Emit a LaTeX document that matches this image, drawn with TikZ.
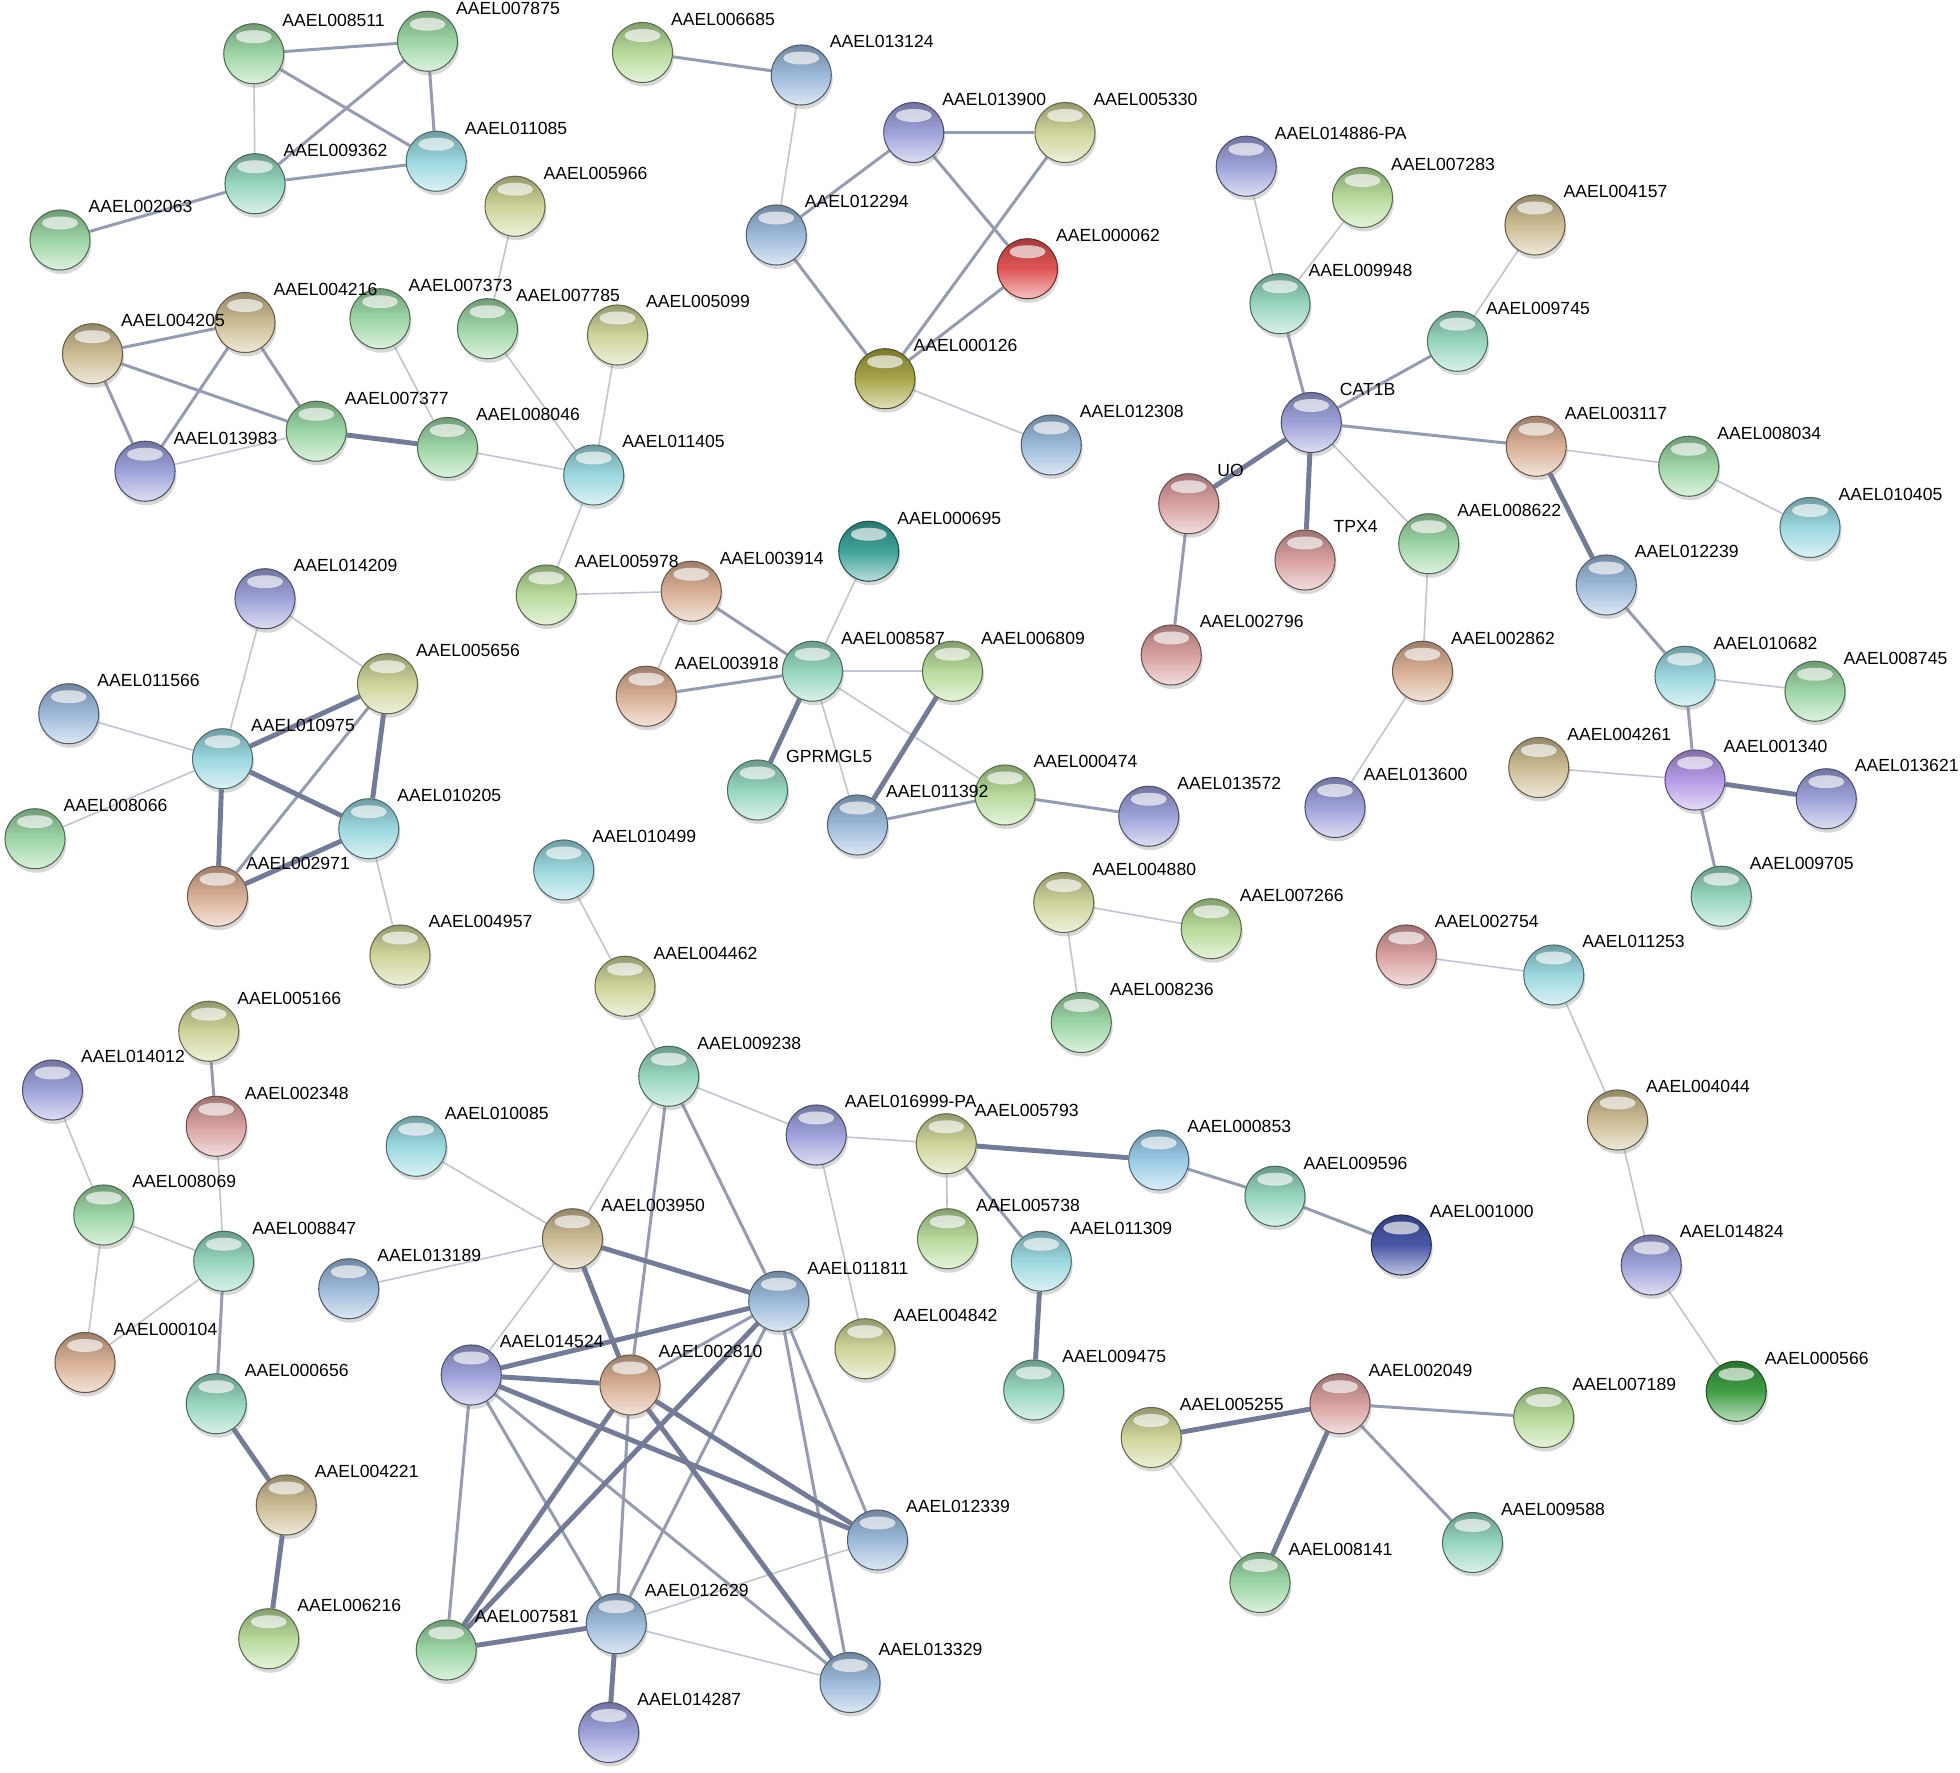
\documentclass[tikz,border=0pt]{standalone}
\usepackage{fontspec}
\newfontfamily\stringfont{Liberation Sans}
\usetikzlibrary{shadows,backgrounds}
\pgfdeclarelayer{front}
\pgfsetlayers{background,main,front}
\definecolor{edgeblue}{HTML}{737B96}
\definecolor{sgreen}{HTML}{9ED6A6}
\definecolor{smint}{HTML}{97D6BE}
\definecolor{scyan}{HTML}{9CD8E0}
\definecolor{sblue}{HTML}{9DBADB}
\definecolor{spurple}{HTML}{9EA2DA}
\definecolor{syellow}{HTML}{CFD49A}
\definecolor{sygreen}{HTML}{B8DB9C}
\definecolor{stan}{HTML}{CDBD95}
\definecolor{speach}{HTML}{D9B096}
\definecolor{spink}{HTML}{D9A0A0}
\definecolor{sred}{HTML}{E05555}
\definecolor{solive}{HTML}{A8A648}
\definecolor{steal}{HTML}{3FA39B}
\definecolor{sviolet}{HTML}{B59BE6}
\definecolor{sdkgreen}{HTML}{3F9E45}
\definecolor{sdkblue}{HTML}{4A58A8}
\definecolor{slblue}{HTML}{9ACBE8}
\tikzset{
  prot/.style={circle,minimum size=.6cm,inner sep=0pt,draw=#1!50!black,line width=.3pt,
    top color=#1!72!black,bottom color=#1!35!white,middle color=#1,
    drop shadow={opacity=.3,shadow xshift=.015cm,shadow yshift=-.04cm},
    path picture={\fill[white,opacity=.65] ([yshift=-.13cm]path picture bounding box.north) ellipse (.18cm and .065cm);}},
  lbl/.style={anchor=base west,xshift=.28cm,yshift=.27cm,inner sep=0pt,
    font=\stringfont\fontsize{5}{6}\selectfont},
  weak/.style={draw=edgeblue!45,line width=.45pt},
  mid/.style={draw=edgeblue!75,line width=.85pt},
  strong/.style={draw=edgeblue,line width=1.4pt}}
\begin{document}
\begin{tikzpicture}[x=.0125cm,y=-.0125cm]
\useasboundingbox (0,0) rectangle (1568,1418);
% proteins
\foreach \n/\x/\y/\c in {008511/203/43/sgreen,007875/342/33/sgreen,011085/349/129/scyan,009362/204/147/smint,002063/48/192/sgreen,
  006685/514/42/sygreen,013124/641/60/sblue,012294/621/188/sblue,013900/731/106/spurple,005330/852/106/syellow,000062/822/215/sred,000126/708/303/solive,012308/841/356/sblue,
  005966/412/165/syellow,004205/74/283/stan,004216/196/258/stan,007373/304/255/sgreen,007785/390/263/sgreen,005099/494/268/syellow,007377/253/345/sgreen,013983/116/377/spurple,008046/358/358/sgreen,011405/475/380/scyan,
  005978/437/476/sygreen,003914/553/473/speach,000695/695/441/steal,003918/517/557/speach,008587/650/537/smint,006809/762/537/sygreen,011392/686/660/sblue,000474/804/636/sygreen,013572/919/653/spurple,004880/851/722/syellow,007266/969/743/sygreen,008236/865/818/sgreen,
  014209/212/479/spurple,005656/310/547/syellow,011566/55/571/sblue,010975/178/607/scyan,010205/295/663/scyan,008066/28/671/sgreen,002971/174/717/speach,004957/320/764/syellow,
  014886-PA/997/133/spurple,007283/1090/158/sygreen,004157/1228/180/stan,009948/1024/243/smint,009745/1166/273/smint,003117/1229/357/speach,008034/1351/373/sgreen,010405/1448/422/scyan,
  008622/1143/435/sgreen,012239/1285/468/sblue,002796/937/524/spink,002862/1138/537/speach,013600/1068/646/spurple,010682/1348/541/scyan,008745/1452/553/sgreen,004261/1231/614/stan,001340/1356/624/sviolet,013621/1461/639/spurple,009705/1377/717/smint,
  002754/1125/764/spink,011253/1243/780/scyan,004044/1294/896/stan,014824/1321/1012/spurple,000566/1389/1113/sdkgreen,
  005166/167/825/syellow,014012/42/872/spurple,002348/173/901/spink,008069/83/972/sgreen,008847/179/1009/smint,000104/68/1090/speach,000656/173/1123/smint,004221/229/1204/stan,006216/215/1311/sygreen,
  010499/451/696/scyan,004462/500/789/syellow,009238/535/861/smint,010085/333/917/scyan,016999-PA/653/908/spurple,005793/757/915/syellow,000853/927/928/slblue,009596/1020/957/smint,001000/1121/996/sdkblue,
  003950/458/991/stan,005738/758/991/sygreen,011309/833/1009/scyan,013189/279/1031/sblue,011811/623/1041/sblue,004842/692/1079/syellow,014524/377/1100/spurple,002810/504/1108/speach,009475/827/1112/smint,
  012339/702/1232/sblue,012629/493/1299/sblue,007581/357/1320/sgreen,013329/680/1346/sblue,014287/487/1386/spurple,
  005255/921/1150/syellow,002049/1072/1123/spink,007189/1235/1134/sygreen,009588/1178/1234/smint,008141/1008/1266/sgreen}
  {\node[prot=\c] (\n) at (\x,\y) {};
   \begin{pgfonlayer}{front}\node[lbl] (l\n) at (\n.center) {AAEL\n};\end{pgfonlayer}}
\foreach \n/\x/\y/\c in {GPRMGL5/606/632/smint,CAT1B/1049/338/spurple,UO/951/403/spink,TPX4/1044/448/spink}
  {\node[prot=\c] (\n) at (\x,\y) {};
   \begin{pgfonlayer}{front}\node[lbl] (l\n) at (\n.center) {\n};\end{pgfonlayer}}
% interactions
\begin{scope}[on background layer]
\fill[white] (0,0) rectangle (1568,1418);
\foreach \u/\v in {008511/009362,013124/012294,000126/012308,013983/007377,008046/011405,005099/011405,011405/005978,005966/007785,007373/008046,007785/011405,
  003914/003918,008587/000695,008587/006809,008587/011392,004880/008236,004880/007266,005978/003914,008587/000474,
  014209/010975,014209/005656,011566/010975,010975/008066,010205/004957,014886-PA/009948,007283/009948,004157/009745,CAT1B/008622,003117/008034,008034/010405,
  008622/002862,002862/013600,010682/008745,004261/001340,002754/011253,011253/004044,004044/014824,014824/000566,
  014012/008069,002348/008847,008069/008847,008069/000104,008847/000104,010499/004462,004462/009238,009238/016999-PA,009238/003950,010085/003950,013189/003950,
  016999-PA/005793,016999-PA/004842,005793/005738,003950/014524,012629/012339,012629/013329,005255/008141}
  {\draw[weak] (\u)--(\v);}
\foreach \u/\v in {008511/007875,008511/011085,007875/009362,007875/011085,009362/011085,009362/002063,006685/013124,012294/013900,012294/000126,013900/005330,
  013900/000062,005330/000126,000062/000126,004205/004216,004205/013983,004205/007377,004216/013983,004216/007377,003914/008587,003918/008587,011392/000474,000474/013572,
  005656/002971,009948/CAT1B,009745/CAT1B,CAT1B/003117,012239/010682,010682/001340,001340/009705,005166/002348,008847/000656,009238/002810,009238/011811,
  000853/009596,009596/001000,005793/011309,014524/007581,014524/012629,014524/013329,002810/011811,002810/012629,011811/012629,011811/012339,011811/013329,
  002049/007189,002049/009588,UO/002796}
  {\draw[mid] (\u)--(\v);}
\foreach \u/\v in {007377/008046,008587/GPRMGL5,006809/011392,010975/005656,010975/010205,010975/002971,005656/010205,010205/002971,CAT1B/UO,CAT1B/TPX4,
  003117/012239,001340/013621,000656/004221,004221/006216,005793/000853,011309/009475,003950/011811,003950/002810,014524/011811,014524/002810,014524/012339,
  002810/007581,002810/012339,002810/013329,011811/007581,012629/007581,012629/014287,005255/002049,002049/008141}
  {\draw[strong] (\u)--(\v);}
\end{scope}
\end{tikzpicture}
\end{document}
